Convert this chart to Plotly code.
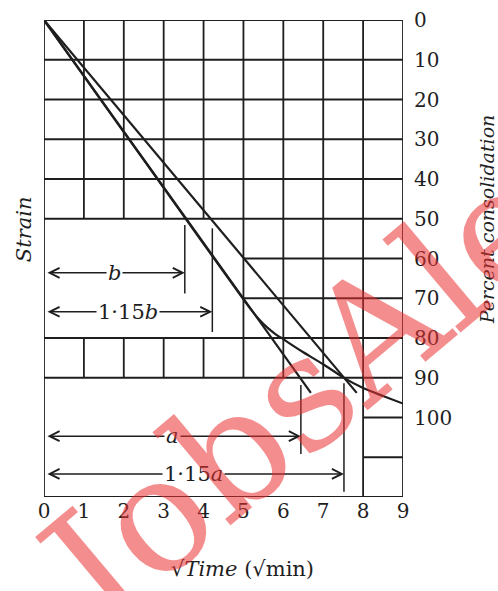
import plotly.graph_objects as go

# ---------------- data ----------------
x_ticks = [0, 1, 2, 3, 4, 5, 6, 7, 8, 9]
y_ticks = [0, 10, 20, 30, 40, 50, 60, 70, 80, 90, 100]

# initial straight line and the 1.15x line (sqrt time, % consolidation)
line1_x = [0, 6.69]
line1_y = [0, 93.8]
line2_x = [0, 7.84]
line2_y = [0, 93.8]

# consolidation curve
curve_x = [0, 1, 2, 3, 4, 5, 5.2, 5.4, 5.6, 5.8, 6.0, 6.25, 6.5, 7.0, 7.5, 8.0, 8.5, 9.0]
curve_y = [0, 14.1, 28.2, 42.2, 56.3, 70.3, 73.0, 75.4, 77.4, 79.0, 80.3, 82.0, 83.6, 86.6, 89.9, 92.6, 94.6, 96.5]

# measurement markers: (label, x value, arrow level, vertical-line top, vertical-line bottom)
mark_labels = ["<i>b</i>", "1·15<i>b</i>", "<i>a</i>", "1·15<i>a</i>"]
mark_x = [3.53, 4.22, 6.44, 7.52]
mark_arrow_y = [63.6, 73.4, 104.7, 114.2]
mark_top = [51.6, 52.4, 91.8, 91.4]
mark_bottom = [68.8, 78.5, 109.2, 118.7]

# grid segments of the printed chart paper
h_full = [0, 10, 20, 30, 40, 50, 80, 90, 120]     # horizontal lines x 0..9
h_right = [60, 70]                                # horizontal lines x 5..9
h_corner = [100, 110]                             # horizontal lines x 8..9
v_segments = [  # (x, y from, y to)
    (0, 0, 120), (1, 0, 50), (2, 0, 50), (3, 0, 50), (4, 0, 50),
    (1, 80, 90), (2, 80, 90), (3, 80, 90), (4, 80, 90),
    (5, 0, 90), (6, 0, 90), (7, 0, 90), (8, 0, 120), (9, 0, 120),
]

INK = "#1e1e1e"
FONT = "DejaVu Serif"

fig = go.Figure()

shapes = []
for yv in h_full:
    shapes.append(dict(type="line", xref="x", yref="y", x0=0, x1=9, y0=yv, y1=yv,
                       line=dict(color=INK, width=1.8)))
for yv in h_right:
    shapes.append(dict(type="line", xref="x", yref="y", x0=5, x1=9, y0=yv, y1=yv,
                       line=dict(color=INK, width=1.8)))
for yv in h_corner:
    shapes.append(dict(type="line", xref="x", yref="y", x0=8, x1=9, y0=yv, y1=yv,
                       line=dict(color=INK, width=1.8)))
for xv, ya, yb in v_segments:
    shapes.append(dict(type="line", xref="x", yref="y", x0=xv, x1=xv, y0=ya, y1=yb,
                       line=dict(color=INK, width=1.8)))
for xv, ya, yb in zip(mark_x, mark_top, mark_bottom):
    shapes.append(dict(type="line", xref="x", yref="y", x0=xv, x1=xv, y0=ya, y1=yb,
                       line=dict(color=INK, width=1.5)))

fig.add_trace(go.Scatter(x=line1_x, y=line1_y, mode="lines",
                         line=dict(color=INK, width=2.2), hoverinfo="skip"))
fig.add_trace(go.Scatter(x=line2_x, y=line2_y, mode="lines",
                         line=dict(color=INK, width=2.2), hoverinfo="skip"))
fig.add_trace(go.Scatter(x=curve_x, y=curve_y, mode="lines",
                         line=dict(color=INK, width=2.2, shape="spline", smoothing=0.6),
                         hoverinfo="skip"))

annotations = []
for lab, xv, yv in zip(mark_labels, mark_x, mark_arrow_y):
    annotations.append(dict(x=xv, y=yv, ax=0.05, ay=yv, xref="x", yref="y",
                            axref="x", ayref="y", text="", showarrow=True,
                            arrowhead=5, arrowsize=1.3, arrowwidth=1.5,
                            arrowside="end+start", arrowcolor=INK))
    annotations.append(dict(x=xv / 2, y=yv, xref="x", yref="y", text=lab,
                            showarrow=False, bgcolor="white", borderpad=1,
                            font=dict(family=FONT, size=21, color=INK)))

# axis titles
annotations.append(dict(x=-0.055, y=0.562, xref="paper", yref="paper",
                        text="<i>Strain</i>", textangle=-90, showarrow=False,
                        xanchor="center", yanchor="middle",
                        font=dict(family=FONT, size=21, color=INK)))
annotations.append(dict(x=1.235, y=0.583, xref="paper", yref="paper",
                        text="<i>Percent consolidation</i>", textangle=-90,
                        xanchor="center", yanchor="middle",
                        showarrow=False, font=dict(family=FONT, size=19, color=INK)))
annotations.append(dict(x=0.554, y=-0.15, xref="paper", yref="paper",
                        text="√<i>Time</i> (√min)", showarrow=False,
                        xanchor="center", yanchor="middle",
                        font=dict(family=FONT, size=21, color=INK)))

# red watermark
annotations.append(dict(x=0.85, y=0.30, xref="paper", yref="paper",
                        text="JobsAlert", textangle=-40, showarrow=False,
                        xanchor="center", yanchor="middle",
                        font=dict(family="DejaVu Serif", size=160,
                                  color="rgba(235,50,50,0.55)")))

fig.update_layout(
    width=498, height=591,
    margin=dict(l=44, r=95, t=20, b=94, autoexpand=False),
    paper_bgcolor="white", plot_bgcolor="white",
    showlegend=False,
    shapes=shapes,
    annotations=annotations,
    xaxis=dict(range=[0, 9], tickvals=x_ticks, ticktext=[str(v) for v in x_ticks],
               showgrid=False, zeroline=False, showline=False, ticks="",
               tickfont=dict(family=FONT, size=20, color=INK)),
    yaxis=dict(range=[120, 0], tickvals=y_ticks, ticktext=[str(v) for v in y_ticks],
               side="right", showgrid=False, zeroline=False, showline=False, ticks="",
               ticklabelstandoff=10,
               tickfont=dict(family=FONT, size=20, color=INK)),
)

fig.write_html("out.html", config={"displayModeBar": False},
               post_script="document.body.style.margin='0';document.body.style.overflow='hidden';")
